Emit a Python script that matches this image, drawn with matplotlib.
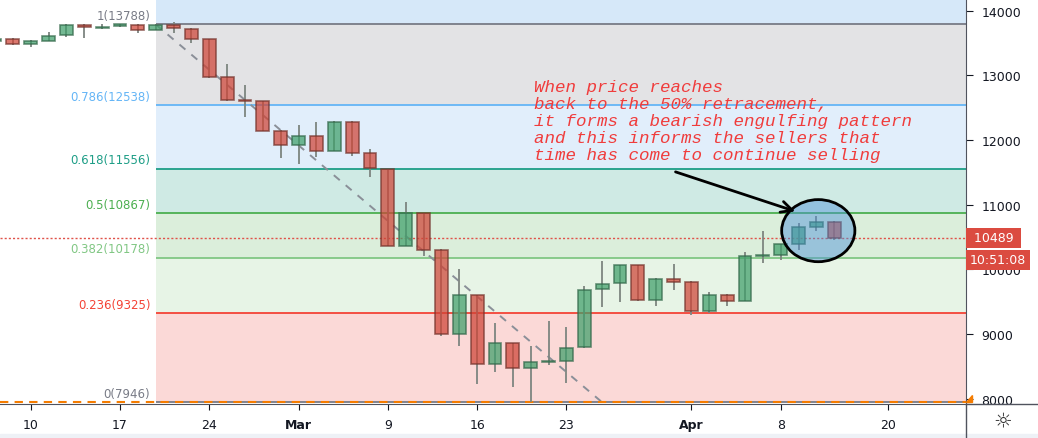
import matplotlib.pyplot as plt
import numpy as np
from matplotlib.patches import Ellipse, Polygon
from matplotlib.lines import Line2D

# daily candles, index 0 = Feb 10 (trading days only)
idx = list(range(-2, 46))
opens = [13530, 13560, 13485, 13531, 13625, 13785, 13735, 13765, 13780, 13702,
         13780, 13722, 13560, 12970, 12625, 12600, 12145, 11925, 12058, 11836,
         12284, 11795, 11553, 10368, 10872, 10300, 8997, 9605, 8538, 8858,
         8471, 8565, 8580, 8795, 9692, 9785, 10067, 9527, 9860, 9810,
         9353, 9600, 9517, 10203, 10222, 10393, 10661, 10729]
closes = [13560, 13485, 13530, 13613, 13780, 13743, 13752, 13788, 13700, 13778,
          13733, 13567, 12980, 12625, 12598, 12145, 11920, 12058, 11836, 12284,
          11805, 11568, 10368, 10872, 10305, 8997, 9605, 8538, 8858, 8471,
          8564, 8585, 8785, 9680, 9773, 10067, 9527, 9850, 9813, 9353,
          9605, 9517, 10203, 10222, 10393, 10651, 10729, 10489]
highs = [13575, 13575, 13540, 13665, 13795, 13795, 13790, 13800, 13790, 13788,
         13830, 13730, 13565, 13175, 12850, 12610, 12150, 12233, 12275, 12290,
         12290, 11862, 11560, 11038, 10880, 10310, 10006, 9610, 9172, 8870,
         8822, 9198, 9105, 9750, 10125, 10075, 10075, 9875, 10086, 9815,
         9646, 9620, 10265, 10600, 10400, 10718, 10822, 10755]
lows = [13510, 13470, 13435, 13525, 13600, 13575, 13715, 13750, 13655, 13695,
        13660, 13505, 12965, 12605, 12360, 12135, 11720, 11630, 11745, 11830,
        11760, 11430, 10360, 10360, 10210, 8965, 8810, 8230, 8420, 8178,
        7946, 8522, 8240, 8790, 9424, 9490, 9520, 9430, 9686, 9300,
        9327, 9430, 9510, 10100, 10150, 10305, 10600, 10460]

tick_pos = [0, 5, 10, 15, 20, 25, 30, 37, 42, 48]
tick_labels = ["10", "17", "24", "Mar", "9", "16", "23", "Apr", "8", "20"]

fib_ratios = ["1", "0.786", "0.618", "0.5", "0.382", "0.236", "0"]
fib_levels = [13788, 12538, 11556, 10867, 10178, 9325, 7946]
fib_colors = ["#787b86", "#64b5f6", "#1e9e87", "#4caf50", "#81c784", "#f44336", "#787b86"]
zone_colors = ["#e3e3e5", "#e1eefb", "#cfeae4", "#dbeedb", "#e7f4e6", "#fbd9d7"]
top_zone = "#d6e8f9"

last_price = 10489
yticks = [8000, 9000, 10000, 11000, 12000, 13000, 14000]

note = ("When price reaches\n"
        "back to the 50% retracement,\n"
        "it forms a bearish engulfing pattern\n"
        "and this informs the sellers that\n"
        "time has come to continue selling")

fig = plt.figure(figsize=(10.38, 4.39), dpi=100)
ax = fig.add_axes([0, 0.0774, 0.9306, 0.9226])
xmin, xmax = -1.72, 52.37
ymin, ymax = 7920, 14181
ax.set_xlim(xmin, xmax)
ax.set_ylim(ymin, ymax)

# fib zones
fx0 = 7
ax.fill_between([fx0, xmax], fib_levels[0], ymax, color=top_zone, lw=0, zorder=0)
for k in range(len(fib_levels) - 1):
    ax.fill_between([fx0, xmax], fib_levels[k + 1], fib_levels[k],
                    color=zone_colors[k], lw=0, zorder=0)
for r, lv, c in zip(fib_ratios, fib_levels, fib_colors):
    ax.hlines(lv, fx0, xmax, color=c, lw=1.3, zorder=1)
    ax.text(fx0 - 0.3, lv + 40, f"{r}({lv})", color=c, fontsize=8.5,
            ha="right", va="bottom", zorder=2)

ax.plot([fx0, 32], [fib_levels[0], fib_levels[-1]], color="#8a8f98",
        lw=1.4, ls=(0, (4, 4)), zorder=2)
ax.axhline(fib_levels[-1], color="#f57c00", lw=1.5, ls=(0, (4, 3)), zorder=2)
ax.axhline(last_price, color="#e0524a", lw=1, ls=(0, (1.5, 1.5)), zorder=2)

# candles
for i, o, h, l, c in zip(idx, opens, highs, lows, closes):
    up = c >= o
    fc = "#3f9f6a" if up else "#cf4436"
    ec = "#33684a" if up else "#74332c"
    ax.vlines(i, l, h, color="#7d8580", lw=1.3, zorder=3)
    ax.bar(i, max(abs(c - o), 12), bottom=min(o, c), width=0.72,
           color=fc, alpha=0.72, edgecolor=ec, linewidth=1.2, zorder=4)

ell = Ellipse((44.1, 10600), 4.1, 960, facecolor="#4a90d9", alpha=0.45,
              edgecolor="none", zorder=5)
ax.add_patch(ell)
ax.add_patch(Ellipse((44.1, 10600), 4.1, 960, facecolor="none",
                     edgecolor="black", lw=2, zorder=6))

ax.annotate("", xy=(42.96, 10885), xytext=(35.96, 11522),
            arrowprops=dict(arrowstyle="->", lw=2, color="black",
                            mutation_scale=20), zorder=6)

ax.text(28.2, 12950, note, family="Liberation Mono", style="italic",
        fontsize=12.6, color="#f03c3c", ha="left", va="top",
        linespacing=1.17, zorder=6)

# axes style
for s in ["left", "top"]:
    ax.spines[s].set_visible(False)
ax.spines["right"].set_color("#50535e")
ax.spines["bottom"].set_color("#50535e")
ax.yaxis.tick_right()
ax.set_yticks(yticks)
ax.set_yticklabels([str(v) for v in yticks])
ax.set_xticks(tick_pos)
ax.set_xticklabels(tick_labels)
for t in ax.get_xticklabels():
    if t.get_text() in ("Mar", "Apr"):
        t.set_fontweight("bold")
ax.tick_params(axis="y", length=5, pad=6, labelsize=9, colors="#131722")
ax.tick_params(axis="x", length=4, pad=6, labelsize=9, colors="#131722")

# price boxes on the right scale
bx = dict(boxstyle="square,pad=0.3", fc="#db4b40", ec="none")
ax.text(1.004, (last_price - ymin) / (ymax - ymin), " 10489 ", transform=ax.transAxes,
        color="white", fontsize=9, ha="left", va="center", bbox=bx, clip_on=False)
ax.text(1.004, (last_price - 340 - ymin) / (ymax - ymin), "10:51:08", transform=ax.transAxes,
        color="white", fontsize=9, ha="left", va="center", bbox=bx, clip_on=False)

# small orange marker at the scale
fig.add_artist(Polygon([[0.9310, 0.083], [0.9368, 0.083], [0.9368, 0.098]],
                       closed=True, transform=fig.transFigure, color="#f57c00"))

# frame lines and bottom strip
fig.add_artist(Line2D([0.9306, 0.9306], [0, 0.0774], transform=fig.transFigure,
                      color="#50535e", lw=1))
fig.add_artist(Line2D([0.9306, 1], [0.0774, 0.0774], transform=fig.transFigure,
                      color="#50535e", lw=1))
fig.patches.append(plt.Rectangle((0, 0), 1, 0.009, transform=fig.transFigure,
                                 color="#eef1f6", zorder=0))
fig.text(0.966, 0.039, "\u263c", fontsize=15, ha="center", va="center", color="#333")

fig.savefig("out.png", dpi=100)
